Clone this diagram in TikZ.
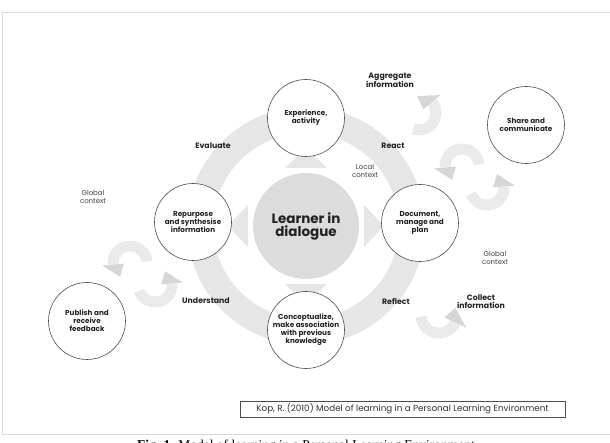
\documentclass[tikz,border=0pt]{standalone}
\usepackage{fontspec}
\setmainfont{Poppins}
\newfontfamily\capfont{Liberation Serif}
\definecolor{ringgray}{HTML}{E6E6E6}
\definecolor{centergray}{HTML}{DCDCDC}
\definecolor{arrbody}{HTML}{EAEAEA}
\definecolor{arrhead}{HTML}{D6D6D6}
\definecolor{framegray}{HTML}{D9D9D9}
\definecolor{ink}{HTML}{222222}
\tikzset{
  sat/.style={circle, draw=black!70, line width=0.6pt, fill=white, minimum size=77pt, inner sep=0pt, align=center, text=ink, font=\fontsize{7.2}{8}\selectfont\bfseries},
  hub/.style={circle, fill=centergray, minimum size=106pt, inner sep=0pt, align=center, text=ink, font=\fontsize{13.5}{13}\selectfont\bfseries},
  lbl/.style={align=center, text=ink, font=\fontsize{7.8}{8}\selectfont\bfseries, inner sep=0pt},
  ctx/.style={align=center, text=black!75, font=\fontsize{7}{8}\selectfont, inner sep=0pt},
  tri/.style={fill=ringgray},
}
\newcommand\cycarrow[8]{% cx cy r start end tip rin rout
  \draw[line width=11pt, arrbody] ([shift={(#1,#2)}]#4:#3) arc[start angle=#4, end angle=#5, radius=#3];
  \fill[arrhead] ([shift={(#1,#2)}]#5:#7) -- ([shift={(#1,#2)}]#5:#8) -- ([shift={(#1,#2)}]#6:#3) -- cycle;
}
\begin{document}
\begin{tikzpicture}[x=1pt,y=-1pt]
\useasboundingbox (0,0) rectangle (610,443);
% frame
\draw[framegray, line width=0.8pt] (2,12) rectangle (614,434);
% ring
\draw[ringgray, line width=26pt] (306,226) circle (106);
% triangles
\fill[tri] (285,168) -- (327,168) -- (306,148) -- cycle;
\fill[tri] (248,205) -- (248,247) -- (228,226) -- cycle;
\fill[tri] (364,205) -- (364,247) -- (384,226) -- cycle;
\fill[tri] (285,284) -- (327,284) -- (306,304) -- cycle;
% hub
\node[hub] (learner) at (306,226) {Learner in\\dialogue};
% satellites
\node[sat] (exp) at (306,118) {Experience,\\activity};
\node[sat] (rep) at (193,222) {Repurpose\\and synthesise\\information};
\node[sat] (doc) at (420,223) {Document,\\manage and\\plan};
\node[sat] (con) at (306,330) {Conceptualize,\\make association\\with previous\\knowledge};
\node[sat] (share) at (526,125) {Share and\\communicate};
\node[sat] (pub) at (87,321) {Publish and\\receive\\feedback};
% labels
\node[lbl] (eval) at (213,146) {Evaluate};
\node[lbl] (react) at (393,146) {React};
\node[lbl] (und) at (206,301) {Understand};
\node[lbl] (refl) at (396,301) {Reflect};
\node[lbl] (agg) at (390,80) {Aggregate\\information};
\node[lbl] (coll) at (481,302) {Collect\\information};
\node[ctx] (loc) at (365,171) {Local\\context};
\node[ctx] (glo1) at (93,197) {Global\\context};
\node[ctx] (glo2) at (495,258) {Global\\context};
% curved arrows
\cycarrow{130}{263}{17}{355}{175}{126}{6}{28}
\cycarrow{155}{285}{17}{160}{-5}{-54}{6}{28}
\cycarrow{462}{166}{17}{355}{175}{126}{6}{28}
\cycarrow{487}{188}{17}{160}{-5}{-54}{6}{28}
\cycarrow{419}{113}{17}{110}{-40}{-97}{6}{28}
\cycarrow{439}{315}{18}{175}{25}{-24}{6}{30}
% source box
\node[draw=black!70, line width=0.6pt, minimum width=325pt, minimum height=16pt, inner sep=0pt, text=black!80, font=\fontsize{8.8}{9}\selectfont] (src) at (402.5,409) {Kop, R. (2010) Model of learning in a Personal Learning Environment};
% caption (cut by the page edge, as in the reference)
\node[anchor=base, inner sep=0pt, font=\capfont\fontsize{13.5}{14}\selectfont] (cap) at (306,449) {\textbf{Fig. 1.} Model of learning in a Personal Learning Environment};
\end{tikzpicture}
\end{document}
